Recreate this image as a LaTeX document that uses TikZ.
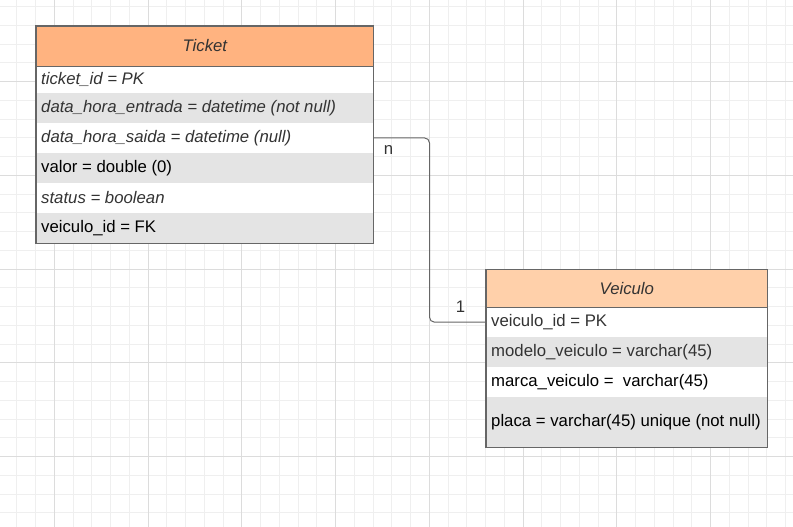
\documentclass[tikz,border=0pt]{standalone}
\usepackage{fontspec}
\setmainfont{Liberation Sans}
\definecolor{gridminor}{HTML}{EFEFEF}
\definecolor{gridmajor}{HTML}{DCDCDC}
\definecolor{hdrticket}{HTML}{FFB380}
\definecolor{hdrveic}{HTML}{FFD0AA}
\definecolor{rowgray}{HTML}{E4E4E4}
\definecolor{txtgray}{HTML}{333333}
\definecolor{edge}{HTML}{666666}
\newcommand{\tw}[1]{\makebox[327.3pt][l]{#1}}
\newcommand{\vw}[1]{\makebox[271.3pt][l]{#1}}
\tikzset{
  tblrow/.style={draw=none, rectangle, anchor=north west, inner xsep=5pt, inner ysep=0pt,
    font=\fontsize{16.75}{20}\selectfont},
  itrow/.style={tblrow, font=\fontsize{16.75}{20}\selectfont\itshape, text=txtgray},
  hdr/.style={draw=none, rectangle, anchor=north west, inner sep=0pt,
    font=\fontsize{16.75}{20}\selectfont\itshape, text=txtgray},
  conn/.style={draw=edge, line width=1pt, rounded corners=5pt},
  card/.style={font=\fontsize{16.75}{20}\selectfont, text=txtgray, inner sep=0pt}
}
\begin{document}
\begin{tikzpicture}[x=1pt,y=-1pt]
\useasboundingbox (0,0) rectangle (793,527);
% grid
\begin{scope}
\clip (0,0) rectangle (793,527);
\foreach \k in {0,...,42} {
  \draw[gridminor, line width=1pt] (16.8+18.75*\k,0) -- (16.8+18.75*\k,527);
}
\foreach \k in {0,...,28} {
  \draw[gridminor, line width=1pt] (0,6.7+18.75*\k) -- (793,6.7+18.75*\k);
}
\foreach \k in {0,...,8} {
  \draw[gridmajor, line width=1pt] (54.3+93.75*\k,0) -- (54.3+93.75*\k,527);
}
\foreach \k in {0,...,4} {
  \draw[gridmajor, line width=1pt] (0,81.7+93.75*\k) -- (793,81.7+93.75*\k);
}
\end{scope}

% ---------- Ticket ----------
\node[hdr, fill=hdrticket, minimum width=337.3pt, minimum height=39.7pt] (th) at (36,26) {\raisebox{1.5pt}{Ticket}};
\node[itrow, fill=white, minimum height=27pt] (t1) at (36,65.7) {\tw{\raisebox{1pt}{ticket\_id = PK}}};
\node[itrow, fill=rowgray, minimum height=30pt] (t2) at (36,92.7) {\tw{data\_hora\_entrada = datetime (not null)}};
\node[itrow, fill=white, minimum height=30pt] (t3) at (36,122.7) {\tw{data\_hora\_saida = datetime (null)}};
\node[tblrow, fill=rowgray, minimum height=30pt, text=black] (t4) at (36,152.7) {\tw{valor = double (0)}};
\node[itrow, fill=white, minimum height=30pt] (t5) at (36,182.7) {\tw{status = boolean}};
\node[tblrow, fill=rowgray, minimum height=30pt, text=black] (t6) at (36,212.7) {\tw{veiculo\_id = FK}};
\draw[edge, line width=1pt] (th.south west) -- (th.south east);
\draw[edge, line width=1.2pt] (th.north west) rectangle (t6.south east);

% ---------- Veiculo ----------
\node[hdr, fill=hdrveic, minimum width=281.3pt, minimum height=37.6pt] (vh) at (486,269.7) {\raisebox{1.5pt}{Veiculo}};
\node[tblrow, fill=white, minimum height=29.4pt, text=txtgray] (v1) at (486,307.3) {\vw{veiculo\_id = PK}};
\node[tblrow, fill=rowgray, minimum height=30pt, text=txtgray] (v2) at (486,336.7) {\vw{modelo\_veiculo = varchar(45)}};
\node[tblrow, fill=white, minimum height=30pt, text=black] (v3) at (486,366.7) {\vw{marca\_veiculo = \ varchar(45)}};
\node[tblrow, fill=rowgray, minimum height=50pt, text=black] (v4) at (486,396.7) {\vw{placa = varchar(45) unique (not null)}};
\draw[edge, line width=1pt] (vh.south west) -- (vh.south east);
\draw[edge, line width=1.2pt] (vh.north west) rectangle (v4.south east);

% ---------- connector ----------
\coordinate (mid) at (429.5,230);
\draw[conn] (t3.east) -- (t3.east -| mid) -- (v1.west -| mid) -- (v1.west);
\node[card] (ln) at (388.5,150) {n};
\node[card] (l1) at (460.5,306.5) {1};
\end{tikzpicture}
\end{document}
